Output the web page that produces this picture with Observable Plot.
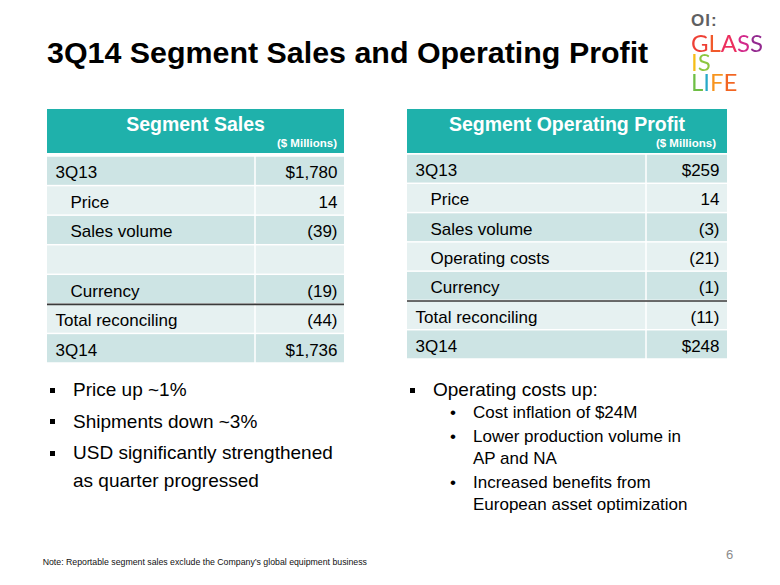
<!DOCTYPE html>
<html>
<head>
<meta charset="utf-8">
<script src="https://cdn.jsdelivr.net/npm/d3@7"></script>
<script src="https://cdn.jsdelivr.net/npm/@observablehq/plot@0.6"></script>
<style>
  html, body { margin: 0; padding: 0; background: #fff; }
  #slide { position: relative; width: 780px; height: 585px; overflow: hidden; font-family: "Liberation Sans", Arial, sans-serif; color: #000; }
  .abs { position: absolute; white-space: nowrap; line-height: 1; }
  .hdr { position: absolute; background: #1fb1ab; color: #fff; font-weight: bold; }
  .hdr .t { position: absolute; left: 0; right: 0; text-align: center; font-size: 19.5px; line-height: 1; top: 6.2px; }
  .hdr .u { position: absolute; font-size: 11.5px; line-height: 1; top: 29px; }
  .tbl { position: absolute; }
  .tbl svg { display: block; }
  .logo { position: absolute; font-family: Lato, "Open Sans", sans-serif; font-weight: 400; white-space: pre; width: 86px; }
  .logo::first-line { font-family: "Liberation Sans", Arial, sans-serif; font-weight: bold; font-size: 17px; line-height: 25px; color: #5f6062; letter-spacing: 1px; }
  .bl { position: absolute; font-size: 19px; }
  .bl .item { position: relative; line-height: 28px; padding-left: 23px; margin-bottom: 3.5px; white-space: normal; }
  .sq { position: absolute; width: 5px; height: 5px; background: #000; left: 0; }
  .br .main { position: relative; font-size: 19px; line-height: 22px; padding-left: 23px; }
  .br .sub { position: relative; font-size: 17px; line-height: 22px; padding-left: 63px; margin-top: 0.7px; margin-bottom: 2px; }
  .br .sub .dot { position: absolute; left: 40px; }
</style>
</head>
<body>
<div id="slide"></div>
<script>
// ---------- data ----------
const salesLabels = ["3Q13", "Price", "Sales volume", "", "Currency", "Total reconciling", "3Q14"];
const salesValues = [1780, 14, -39, null, -19, -44, 1736];
const profitLabels = ["3Q13", "Price", "Sales volume", "Operating costs", "Currency", "Total reconciling", "3Q14"];
const profitValues = [259, 14, -3, -21, -1, -11, 248];
const indented = [false, true, true, true, true, false, false];
const dollarRows = ["3Q13", "3Q14"];
const tableTitles = ["Segment Sales", "Segment Operating Profit"];
const unitLabel = "($ Millions)";
const title = "3Q14 Segment Sales and Operating Profit";
const leftBullets = ["Price up ~1%", "Shipments down ~3%", "USD significantly strengthened as quarter progressed"];
const rightBullet = "Operating costs up:";
const rightSubBullets = ["Cost inflation of $24M", "Lower production volume in AP and NA", "Increased benefits from European asset optimization"];
const note = "Note:  Reportable segment sales exclude the Company\u2019s global equipment business";
const pageNumber = "6";
const logoMark = "OI:";
const logoLines = ["GLASS", "IS", "LIFE"];
const logoColors = [
  ["#ee4035", "#f15a2b", "#ec2f5e", "#d2298a", "#93298f"],
  ["#f5bd18", "#8cc63f"],
  ["#6ebe45", "#27a9c8", "#f7941d", "#f26522"]
];

// ---------- helpers ----------
const slide = document.getElementById("slide");
const FONT = "Liberation Sans, Arial, sans-serif";
const DARK = "#cde4e4", LIGHT = "#e6f1f1", RULE = "#3a3a3a";

function el(tag, cls, style, html) {
  const e = document.createElement(tag);
  if (cls) e.className = cls;
  if (style) Object.assign(e.style, style);
  if (html != null) e.innerHTML = html;
  return e;
}
// place single-line text by baseline (line-height 1)
function textAt(txt, x, baseline, size, extra = {}) {
  const e = el("div", "abs", Object.assign({left: x + "px", top: (baseline - 0.8465 * size) + "px", fontSize: size + "px"}, extra));
  e.textContent = txt;
  slide.appendChild(e);
  return e;
}
function fmtValue(v, label) {
  if (v == null) return "";
  if (dollarRows.includes(label)) return "$" + d3.format(",")(v);
  return v < 0 ? `(${-v})` : String(v);
}

function table(labels, values, opts) {
  const {left, headerTop, headerH, width, split, top, height, unitRight, valuePad} = opts;
  // header
  const hdr = el("div", "hdr", {left: left + "px", top: headerTop + "px", width: width + "px", height: headerH + "px"});
  const t = el("div", "t"); t.textContent = opts.title; hdr.appendChild(t);
  const u = el("div", "u", {right: unitRight + "px"}); u.textContent = unitLabel; hdr.appendChild(u);
  slide.appendChild(hdr);

  const rows = labels.map((label, i) => ({i, label, value: values[i], indent: indented[i], dark: i % 2 === 0}));
  const chart = Plot.plot({
    width, height,
    margin: 0,
    style: {fontFamily: FONT, background: "transparent"},
    x: {domain: [0, width], range: [0, width], axis: null},
    y: {domain: [0, rows.length], range: [0, height], axis: null},
    marks: [
      Plot.rect(rows, {x1: () => 0, x2: () => split - 0.75, y1: d => d.i, y2: d => d.i + 1,
        fill: d => d.dark ? DARK : LIGHT, insetTop: 0.75, insetBottom: 0.75}),
      Plot.rect(rows, {x1: () => split + 0.75, x2: () => width, y1: d => d.i, y2: d => d.i + 1,
        fill: d => d.dark ? DARK : LIGHT, insetTop: 0.75, insetBottom: 0.75}),
      Plot.ruleY([labels.indexOf("Total reconciling")], {stroke: RULE, strokeWidth: 1.6}),
      Plot.text(rows, {x: d => d.indent ? 23 : 8, y: d => d.i + 0.5, text: "label",
        textAnchor: "start", fontSize: 17, fill: "#000", dy: 1.5}),
      Plot.text(rows, {x: () => width - valuePad, y: d => d.i + 0.5, text: d => fmtValue(d.value, d.label),
        textAnchor: "end", fontSize: 17, fill: "#000", dy: 1.5})
    ]
  });
  const wrap = el("div", "tbl", {left: left + "px", top: top + "px"});
  wrap.appendChild(chart);
  slide.appendChild(wrap);
}

// ---------- title ----------
textAt(title, 47, 63, 30.4, {fontWeight: "bold"});

// ---------- logo ----------
(function logo() {
  // one multi-line text: first line is the grey mark (styled via ::first-line),
  // the word lines are coloured letter by letter with clipped background layers
  const size = 24, L = 19.5, L0 = 25;
  const ctx = document.createElement("canvas").getContext("2d");
  ctx.font = `400 ${size}px Lato, "Open Sans", sans-serif`;
  const layers = [], sizes = [], positions = [];
  logoLines.forEach((line, k) => {
    const stops = [];
    let prev = 0;
    [...line].forEach((c, i) => {
      const w = ctx.measureText(line.slice(0, i + 1)).width;
      const end = i === line.length - 1 ? w + 6 : w;
      stops.push(`${logoColors[k][i]} ${prev.toFixed(2)}px ${end.toFixed(2)}px`);
      prev = end;
    });
    layers.push(`linear-gradient(to right, ${stops.join(", ")})`);
    sizes.push(`${prev.toFixed(2)}px ${L}px`);
    positions.push(`0px ${(L0 + k * L).toFixed(2)}px`);
  });
  const firstBaseline = L0 + L / 2 + 0.387 * size; // baseline of GLASS relative to block top
  const e = el("div", "logo", {
    left: "691px", top: (52 - firstBaseline) + "px",
    fontSize: size + "px", lineHeight: L + "px",
    color: "transparent",
    backgroundImage: layers.join(", "),
    backgroundSize: sizes.join(", "),
    backgroundPosition: positions.join(", "),
    backgroundRepeat: "no-repeat"
  });
  e.style.webkitBackgroundClip = "text";
  e.style.backgroundClip = "text";
  e.textContent = [logoMark, ...logoLines].join("\n");
  slide.appendChild(e);
})();

// ---------- tables ----------
table(salesLabels, salesValues, {title: tableTitles[0], left: 47, headerTop: 109, headerH: 44, width: 297, split: 208,
  top: 156, height: 207, unitRight: 7, valuePad: 7});
table(profitLabels, profitValues, {title: tableTitles[1], left: 407, headerTop: 109, headerH: 43.5, width: 320, split: 239,
  top: 153.5, height: 205, unitRight: 11, valuePad: 8});

// ---------- bullets ----------
(function bullets() {
  const lb = el("div", "bl", {left: "50px", top: (397 - 20.6) + "px", width: "300px"});
  for (const b of leftBullets) {
    const it = el("div", "item");
    it.appendChild(el("span", "sq", {top: "11.5px"}));
    it.appendChild(document.createTextNode(b));
    lb.appendChild(it);
  }
  slide.appendChild(lb);

  const rb = el("div", "br", {position: "absolute", left: "410px", top: (397 - 17.6) + "px", width: "320px"});
  const main = el("div", "main");
  main.appendChild(el("span", "sq", {top: "9px"}));
  main.appendChild(document.createTextNode(rightBullet));
  rb.appendChild(main);
  for (const s of rightSubBullets) {
    const it = el("div", "sub", {width: "218px"});
    it.appendChild(el("span", "dot", null, "\u2022"));
    it.appendChild(document.createTextNode(s));
    rb.appendChild(it);
  }
  slide.appendChild(rb);
})();

// ---------- footer ----------
textAt(note, 42.7, 565.7, 8.75, {color: "#111"});
textAt(pageNumber, 726, 559, 13, {color: "#8c8c8c"});
</script>
</body>
</html>
